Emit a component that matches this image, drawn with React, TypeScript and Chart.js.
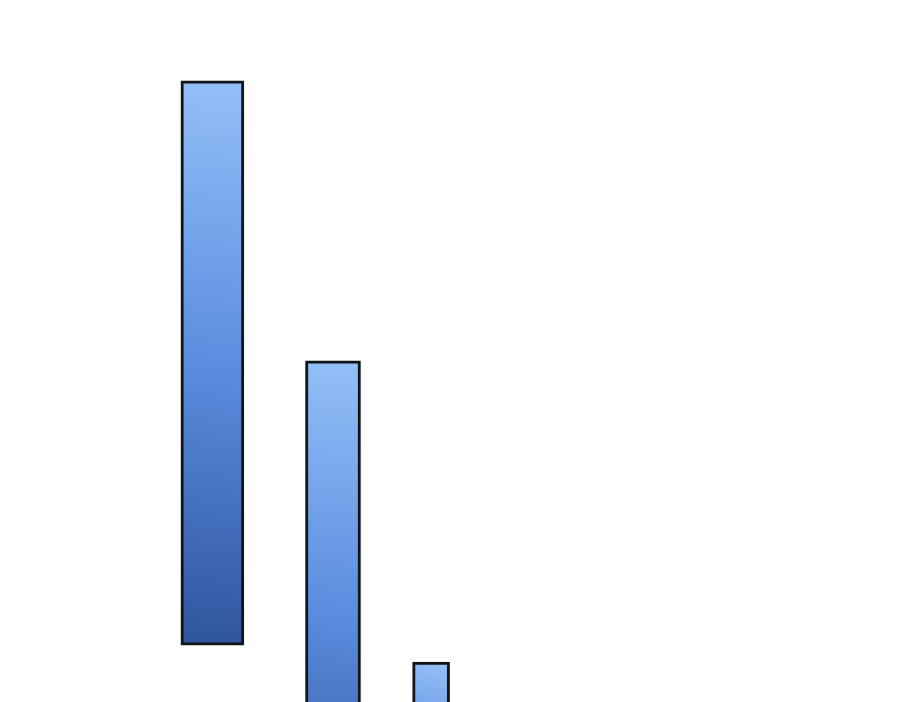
import { useEffect, useRef } from 'react';
import { Chart, registerables } from 'chart.js';

Chart.register(...registerables);

// values (axes are hidden; x and y run 0..100 across the page)
const categories = ['Total', 'Step 1', 'Step 2'];
const barCenters = [23.6, 37.0, 47.9];
const barTops = [88.5, 48.6, 5.7];
const barBottoms = [8.1, -22, -22];
const barThickness = [63, 55, 37];

const LIGHT = '#94c0f7';
const MID = '#5b8de0';
const DARK = '#2f549c';

export default function App() {
  const canvasRef = useRef<HTMLCanvasElement>(null);

  useEffect(() => {
    if (!canvasRef.current) return;

    const gradientFill = (ctx: any) => {
      const chart = ctx.chart;
      const { x, y } = chart.scales;
      const raw = ctx.raw;
      if (!x || !y || !raw || !chart.chartArea) return MID;
      const thick = barThickness[ctx.datasetIndex];
      const cx = x.getPixelForValue(raw.x);
      const top = y.getPixelForValue(raw.y[1]);
      const bottom = y.getPixelForValue(raw.y[0]);
      if (![cx, top, bottom].every(Number.isFinite)) return MID;
      const g = chart.ctx.createLinearGradient(cx + thick / 2, top, cx - thick / 2, bottom);
      g.addColorStop(0, LIGHT);
      g.addColorStop(0.5, MID);
      g.addColorStop(1, DARK);
      return g;
    };

    const chart = new Chart(canvasRef.current, {
      type: 'bar',
      data: {
        datasets: categories.map((label, i) => ({
          label,
          data: [{ x: barCenters[i], y: [barBottoms[i], barTops[i]] }],
          backgroundColor: gradientFill,
          borderColor: '#111418',
          borderWidth: 3,
          borderSkipped: false,
          barThickness: barThickness[i],
        })),
      },
      options: {
        animation: false,
        responsive: true,
        maintainAspectRatio: false,
        grouped: false,
        layout: { padding: 0 },
        plugins: {
          legend: { display: false },
          tooltip: { enabled: false },
        },
        scales: {
          x: { type: 'linear', min: 0, max: 100, offset: false, display: false },
          y: { type: 'linear', min: 0, max: 100, display: false },
        },
      } as any,
    });

    return () => chart.destroy();
  }, []);

  return (
    <div style={{ position: 'fixed', left: 0, top: 0, width: 900, height: 702, background: '#ffffff' }}>
      <canvas ref={canvasRef} />
    </div>
  );
}
